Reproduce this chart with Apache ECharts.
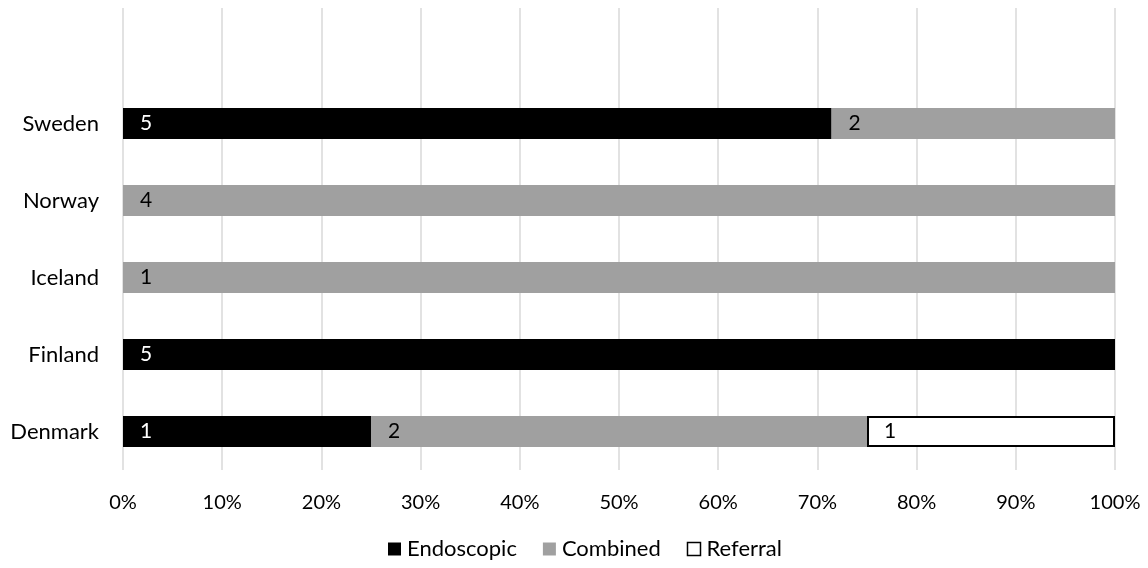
<!DOCTYPE html>
<html>
<head>
<meta charset="utf-8">
<script src="https://cdn.jsdelivr.net/npm/echarts@6/dist/echarts.min.js"></script>
<style>
  html, body { margin: 0; padding: 0; background: #fff; }
  #chart { width: 1148px; height: 568px; }
</style>
</head>
<body>
<div id="chart"></div>
<script>
// Countries, bottom to top; the last blank entry keeps space above Sweden
const countries = ['Denmark', 'Finland', 'Iceland', 'Norway', 'Sweden', ''];
// Number of cases per approach
const endoscopic = [1, 5, 0, 0, 5];
const combined   = [2, 0, 1, 4, 2];
const referral   = [1, 0, 0, 0, 0];
const xTicks = [0, 10, 20, 30, 40, 50, 60, 70, 80, 90, 100];

const totals = countries.map((c, i) =>
  (endoscopic[i] || 0) + (combined[i] || 0) + (referral[i] || 0));

function share(arr) {
  return countries.map((c, i) => {
    const v = arr[i];
    if (!v || !totals[i]) return null;
    return { value: v / totals[i] * 100, count: v };
  });
}

const FONT = 'Lato';

function labelCfg(color) {
  return {
    show: true,
    position: 'insideLeft',
    distance: 17,
    color: color,
    fontSize: 21,
    fontFamily: FONT,
    formatter: p => p.data && p.data.count != null ? String(p.data.count) : ''
  };
}

const chart = echarts.init(document.getElementById('chart'));
chart.setOption({
  animation: false,
  backgroundColor: '#fff',
  textStyle: { fontFamily: FONT },
  grid: { left: 123, right: 33, top: 8, bottom: 98, containLabel: false },
  xAxis: {
    type: 'value',
    min: 0, max: 100, interval: 10,
    axisLine: { show: false },
    axisTick: { show: false },
    splitLine: { show: true, lineStyle: { color: '#d9d9d9', width: 1.5 } },
    axisLabel: {
      margin: 23,
      color: '#000',
      fontSize: 20,
      fontFamily: FONT,
      formatter: v => xTicks.includes(v) ? v + '%' : ''
    }
  },
  yAxis: {
    type: 'category',
    data: countries,
    axisLine: { show: false },
    axisTick: { show: false },
    axisLabel: { margin: 24, color: '#000', fontSize: 22, fontFamily: FONT }
  },
  legend: {
    bottom: 3,
    left: 383,
    icon: 'rect',
    itemWidth: 13,
    itemHeight: 13,
    itemGap: 26,
    textStyle: { color: '#000', fontSize: 22, fontFamily: FONT, padding: [0, 0, 0, 1] },
    data: [
      { name: 'Endoscopic', itemStyle: { color: '#000' } },
      { name: 'Combined', itemStyle: { color: '#a0a0a0' } },
      { name: 'Referral', itemStyle: { color: '#fff', borderColor: '#000', borderWidth: 1.5 } }
    ]
  },
  series: [
    {
      name: 'Endoscopic', type: 'bar', stack: 'all', barWidth: 31,
      itemStyle: { color: '#000' },
      label: labelCfg('#fff'),
      data: share(endoscopic)
    },
    {
      name: 'Combined', type: 'bar', stack: 'all', barWidth: 31,
      itemStyle: { color: '#a0a0a0' },
      label: labelCfg('#000'),
      data: share(combined)
    },
    {
      name: 'Referral', type: 'bar', stack: 'all', barWidth: 31,
      itemStyle: { color: '#fff', borderColor: '#000', borderWidth: 2 },
      label: labelCfg('#000'),
      data: share(referral)
    }
  ]
});
</script>
</body>
</html>
